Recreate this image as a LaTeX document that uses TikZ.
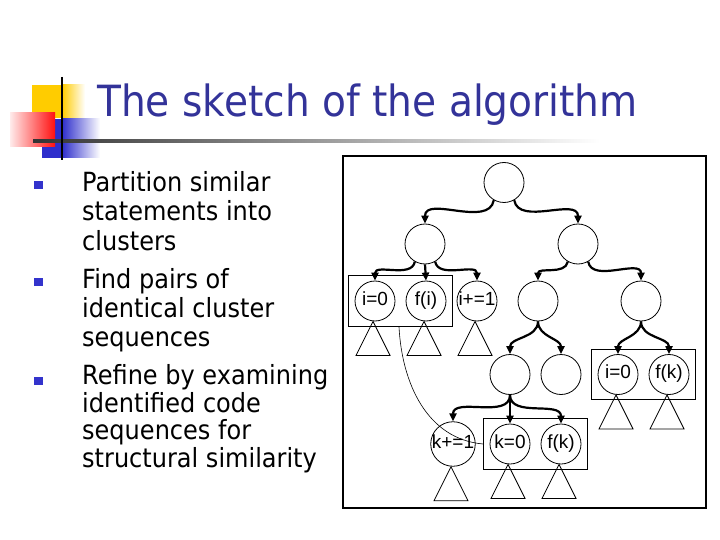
\documentclass[tikz,border=0pt]{standalone}
\usepackage{fontspec}
\setmainfont[FakeStretch=0.91]{DejaVu Sans}
\newfontfamily\nodefont{Liberation Sans}
\usepackage{tikz}
\usetikzlibrary{arrows.meta,positioning,fit}
\definecolor{titleblue}{HTML}{333399}
\definecolor{bulletblue}{HTML}{3333CC}
\definecolor{logoyellow}{HTML}{FFCC00}
\definecolor{logoblue}{HTML}{2E2ECC}
\definecolor{logored}{HTML}{FF1010}
\tikzset{
  headline/.style={font=\fontsize{43}{43}\selectfont, text=titleblue, inner sep=0pt},
  itemtext/.style={anchor=north west, inner sep=0pt, align=left, font=\fontsize{26.4}{#1}\selectfont},
  bulletsq/.style={fill=bulletblue, minimum width=9pt, minimum height=8pt, inner sep=0pt},
  treenode/.style={draw, circle, minimum size=40pt, inner sep=0pt, line width=0.8pt,
               text height=11pt, text depth=3pt,
               font=\nodefont\fontsize{19}{19}\selectfont},
  clusterbox/.style={draw, line width=0.9pt, inner xsep=6pt, inner ysep=5pt},
  branch/.style={-{Triangle[length=8pt,width=7pt]}, line width=2.2pt},
  pairlink/.style={line width=0.6pt},
}
\newcommand{\subtree}[1]{%
  \draw[line width=0.8pt] ([xshift=-2pt]#1.south) -- ++(-17,-34) -- ++(34,0) -- cycle;}

\begin{document}
\begin{tikzpicture}[x=1pt,y=1pt]
  \useasboundingbox (0,0) rectangle (720,-540);
  % corner logo
  \fill[logoyellow] (32,-85) rectangle (62,-118);
  \shade[left color=logoyellow, right color=white] (62,-85) rectangle (85,-118);
  \fill[logoblue] (42,-119) rectangle (62,-158);
  \shade[left color=logoblue, right color=white] (62,-119) rectangle (100,-158);
  \shade[left color=red!8, right color=logored] (10,-113) rectangle (55,-147);
  \shade[left color=black!80, right color=white] (33,-139.5) rectangle (600,-142.5);
  \draw[line width=2.6pt] (62,-77) -- (62,-160);
  \node[headline, anchor=base west] (title) at (97,-117) {The sketch of the algorithm};
  % bullet list
  \node[bulletsq] (b1) at (38.5,-185) {};
  \node[bulletsq] (b2) at (38.5,-282) {};
  \node[bulletsq] (b3) at (38.5,-381) {};
  \node[itemtext=29.5] (t1) at (82,-171) {Partition similar\\statements into\\clusters};
  \node[itemtext=29] (t2) at (82,-268) {Find pairs of\\identical cluster\\sequences};
  \node[itemtext=27.8] (t3) at (82,-364) {Refine by examining\\identified code\\sequences for\\structural similarity};
  % tree
  \draw[line width=1.2pt] (343,-156) rectangle (706,-508);
  \node[treenode] (root) at (504,-182.5) {};
  \node[treenode] (left) at (425,-244) {};
  \node[treenode] (right) at (578,-244) {};
  \node[treenode] (iz) at (375,-301) {i=0};
  \node[treenode] (fi) at (426,-301) {f(i)};
  \node[treenode] (iinc) at (477,-301) {i+=1};
  \node[treenode] (rl) at (538,-301) {};
  \node[treenode] (rr) at (641,-301) {};
  \node[treenode] (rla) at (510,-374.5) {};
  \node[treenode] (rlb) at (561,-374.5) {};
  \node[treenode] (izb) at (618,-374.5) {i=0};
  \node[treenode] (fk) at (669,-374.5) {f(k)};
  \node[treenode] (kinc) at (453,-444) {k+=1};
  \node[treenode] (kz) at (510,-444) {k=0};
  \node[treenode] (fkb) at (561,-444) {f(k)};
  \node[clusterbox, fit=(iz)(fi)] (pairA) {};
  \node[clusterbox, fit=(izb)(fk)] (pairB) {};
  \node[clusterbox, fit=(kz)(fkb)] (pairC) {};
  \foreach \n in {iz,fi,iinc,izb,fk,kinc,kz,fkb} {\subtree{\n}}
  \draw[branch] (root.240) to[out=-100,in=90] (left.north);
  \draw[branch] (root.300) to[out=-80,in=90] (right.north);
  \draw[branch] (left.240) to[out=-100,in=90] (iz.north);
  \draw[branch] (left.south) -- (fi.north);
  \draw[branch] (left.300) to[out=-80,in=90] (iinc.north);
  \draw[branch] (right.240) to[out=-100,in=90] (rl.north);
  \draw[branch] (right.300) to[out=-80,in=90] (rr.north);
  \draw[branch] (rl.south) to[out=-90,in=90] (rla.north);
  \draw[branch] (rl.south) to[out=-90,in=90] (rlb.north);
  \draw[branch] (rr.south) to[out=-90,in=90] (izb.north);
  \draw[branch] (rr.south) to[out=-90,in=90] (fk.north);
  \draw[branch] (rla.south) to[out=-90,in=90] (kinc.north);
  \draw[branch] (rla.south) -- (kz.north);
  \draw[branch] (rla.south) to[out=-90,in=90] (fkb.north);
  \draw[pairlink] ([xshift=-1.5pt]pairA.south) to[out=-87,in=175] (pairC.west);
\end{tikzpicture}
\end{document}
